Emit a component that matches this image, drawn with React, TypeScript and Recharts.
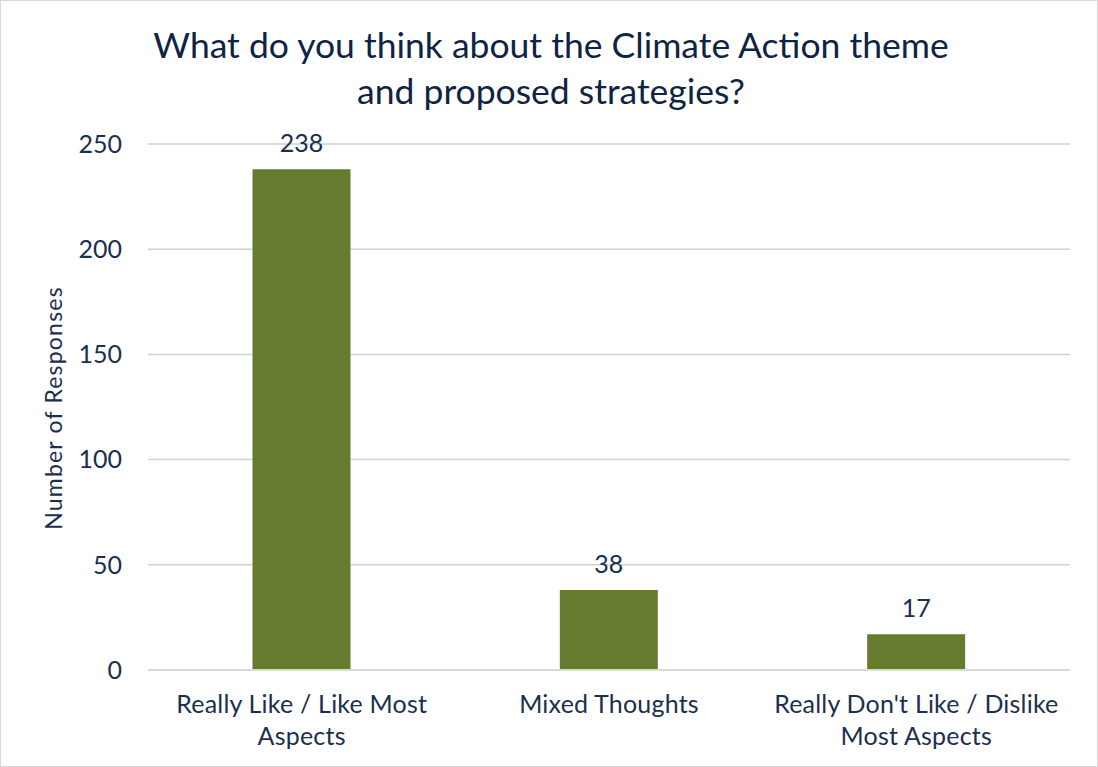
import React from 'react'
import { BarChart, Bar, XAxis, YAxis, CartesianGrid, LabelList } from 'recharts'

const categories = [
  'Really Like / Like Most Aspects',
  'Mixed Thoughts',
  "Really Don't Like / Dislike Most Aspects"
]
const responses = [238, 38, 17]
const yTicks = [0, 50, 100, 150, 200, 250]

const data = categories.map((name, i) => ({ name, value: responses[i] }))

const FONT = 'Lato, "Open Sans", sans-serif'
const NAVY = '#1b2f4e'

// wrap on word boundaries, ~28 chars per line (like the Excel label box)
function wrapWords(s: string, max = 28) {
  const lines: string[] = []
  let cur = ''
  for (const w of s.split(' ')) {
    const next = cur ? cur + ' ' + w : w
    if (next.length > max && cur) {
      lines.push(cur)
      cur = w
    } else cur = next
  }
  if (cur) lines.push(cur)
  return lines
}

const CategoryTick = ({ x, y, payload }: any) => (
  <text
    x={x}
    y={y}
    textAnchor="middle"
    style={{ fontSize: 25, fontFamily: FONT, fill: NAVY, letterSpacing: 0.2 }}
  >
    {wrapWords(String(payload.value)).map((line, i) => (
      <tspan key={i} x={x} dy={i === 0 ? 43 : 32}>
        {line}
      </tspan>
    ))}
  </text>
)

export default function App() {
  return (
    <div
      style={{
        position: 'absolute',
        left: 0,
        top: 0,
        width: 1098,
        height: 767,
        background: '#fff',
        border: '1px solid #d9d9d9',
        boxSizing: 'border-box',
        fontFamily: FONT
      }}
    >
      <div
        style={{
          position: 'absolute',
          top: 21,
          left: 0,
          width: 1100,
          textAlign: 'center',
          fontSize: 35.5,
          lineHeight: '46px',
          color: '#0f2444'
        }}
      >
        What do you think about the Climate Action theme
        <br />
        and proposed strategies?
      </div>
      <div
        style={{
          position: 'absolute',
          left: 52,
          top: 407,
          transform: 'translate(-50%, -50%) rotate(-90deg)',
          whiteSpace: 'nowrap',
          fontSize: 23,
          letterSpacing: 1.2,
          color: NAVY
        }}
      >
        Number of Responses
      </div>
      <div style={{ position: 'absolute', left: -1, top: -1 }}>
        <BarChart
          width={1098}
          height={767}
          data={data}
          margin={{ top: 144, right: 28, bottom: 27, left: 0 }}
          barCategoryGap="34%"
        >
          <CartesianGrid vertical={false} stroke="#cdd1d8" strokeWidth={1.5} />
          <XAxis
            dataKey="name"
            height={70}
            axisLine={{ stroke: '#d9d9d9', strokeWidth: 2 }}
            tickLine={false}
            tickSize={0}
            tickMargin={0}
            interval={0}
            tick={<CategoryTick />}
          />
          <YAxis
            width={148}
            domain={[0, 250]}
            ticks={yTicks}
            axisLine={false}
            tickLine={false}
            tickSize={0}
            tickMargin={26}
            tick={{ fontSize: 25, fontFamily: FONT, fill: NAVY }}
          />
          <Bar dataKey="value" fill="#657b2f" isAnimationActive={false}>
            <LabelList
              dataKey="value"
              position="top"
              offset={17}
              style={{ fontSize: 25, fontFamily: FONT, fill: NAVY }}
            />
          </Bar>
        </BarChart>
      </div>
    </div>
  )
}
